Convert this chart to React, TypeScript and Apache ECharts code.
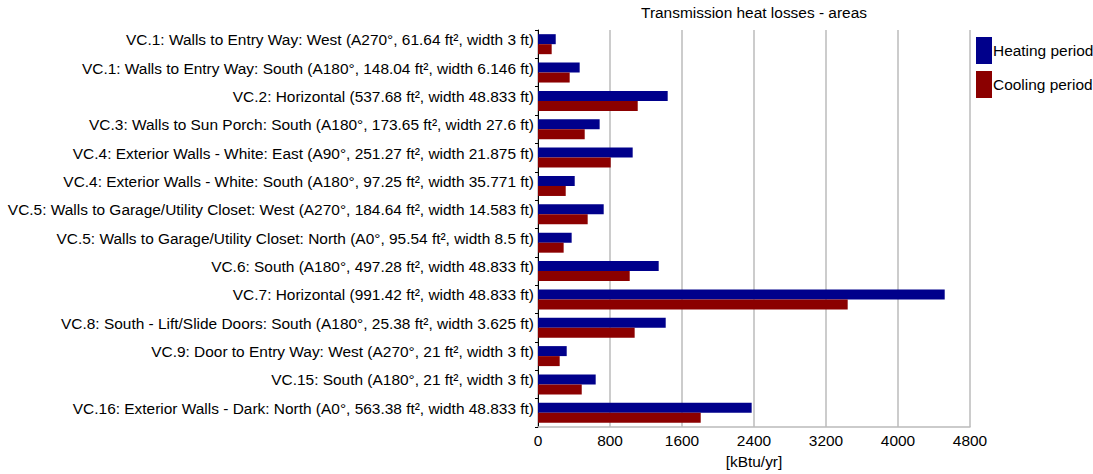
import React, { useEffect, useRef } from "react";
import * as echarts from "echarts";

const categories = [
  "VC.1: Walls to Entry Way: West (A270°, 61.64 ft², width 3 ft)",
  "VC.1: Walls to Entry Way: South (A180°, 148.04 ft², width 6.146 ft)",
  "VC.2: Horizontal (537.68 ft², width 48.833 ft)",
  "VC.3: Walls to Sun Porch: South (A180°, 173.65 ft², width 27.6 ft)",
  "VC.4: Exterior Walls - White: East (A90°, 251.27 ft², width 21.875 ft)",
  "VC.4: Exterior Walls - White: South (A180°, 97.25 ft², width 35.771 ft)",
  "VC.5: Walls to Garage/Utility Closet: West (A270°, 184.64 ft², width 14.583 ft)",
  "VC.5: Walls to Garage/Utility Closet: North (A0°, 95.54 ft², width 8.5 ft)",
  "VC.6: South (A180°, 497.28 ft², width 48.833 ft)",
  "VC.7: Horizontal (991.42 ft², width 48.833 ft)",
  "VC.8: South - Lift/Slide Doors: South (A180°, 25.38 ft², width 3.625 ft)",
  "VC.9: Door to Entry Way: West (A270°, 21 ft², width 3 ft)",
  "VC.15: South (A180°, 21 ft², width 3 ft)",
  "VC.16: Exterior Walls - Dark: North (A0°, 563.38 ft², width 48.833 ft)",
];

const heatingValues = [197, 463, 1441, 685, 1052, 408, 730, 374, 1341, 4519, 1419, 319, 641, 2374];
const coolingValues = [152, 352, 1108, 519, 808, 308, 552, 285, 1019, 3441, 1074, 241, 486, 1808];

const xTicks = { min: 0, max: 4800, interval: 800 };

const FONT = "'Liberation Sans', Arial, sans-serif";
const FS = 15.45;

export default function App() {
  const ref = useRef<HTMLDivElement>(null);
  useEffect(() => {
    if (!ref.current) return;
    const chart = echarts.init(ref.current, undefined, { renderer: "svg" });
    chart.setOption({
      animation: false,
      textStyle: { fontFamily: FONT },
      title: {
        text: "Transmission heat losses - areas",
        left: 754,
        textAlign: "center",
        top: 5,
        padding: 0,
        textStyle: { fontSize: FS, fontWeight: "normal", color: "#000", fontFamily: FONT },
      },
      legend: {
        orient: "vertical",
        left: 976,
        top: 37,
        padding: 0,
        itemWidth: 16,
        itemHeight: 27,
        itemGap: 7,
        icon: "rect",
        textStyle: { fontSize: FS, color: "#000", fontFamily: FONT, padding: [0, 0, 0, -4] },
        data: ["Heating period", "Cooling period"],
      },
      grid: { left: 538, right: 123, top: 30, bottom: 43, containLabel: false },
      xAxis: {
        type: "value",
        min: xTicks.min,
        max: xTicks.max,
        interval: xTicks.interval,
        name: "[kBtu/yr]",
        nameLocation: "middle",
        nameGap: 27,
        nameTextStyle: { fontSize: FS, color: "#000", fontFamily: FONT },
        axisLine: { show: true, lineStyle: { color: "#bbb", width: 1.5 } },
        axisTick: { show: false },
        axisLabel: {
          fontSize: FS,
          color: "#000",
          margin: 6,
          fontFamily: FONT,
          formatter: (v: number) => String(v),
        },
        splitLine: { show: true, lineStyle: { color: "#bbb", width: 1.5 } },
      },
      yAxis: {
        type: "category",
        inverse: true,
        data: categories,
        axisLine: { show: true, lineStyle: { color: "#000", width: 1 } },
        axisTick: { show: true, length: 3, lineStyle: { color: "#000" } },
        axisLabel: {
          fontSize: FS,
          color: "#000",
          margin: 4,
          fontFamily: FONT,
          verticalAlign: "bottom",
          lineHeight: 9,
        },
        splitLine: { show: false },
      },
      series: [
        {
          name: "Heating period",
          type: "bar",
          data: heatingValues,
          barWidth: 10,
          barGap: "0%",
          itemStyle: { color: "#00008B" },
        },
        {
          name: "Cooling period",
          type: "bar",
          data: coolingValues,
          barWidth: 10,
          barGap: "0%",
          itemStyle: { color: "#8B0000" },
        },
      ],
    });
    return () => chart.dispose();
  }, []);
  return <div ref={ref} style={{ width: 1093, height: 474, position: "absolute", left: 0, top: 0 }} />;
}
